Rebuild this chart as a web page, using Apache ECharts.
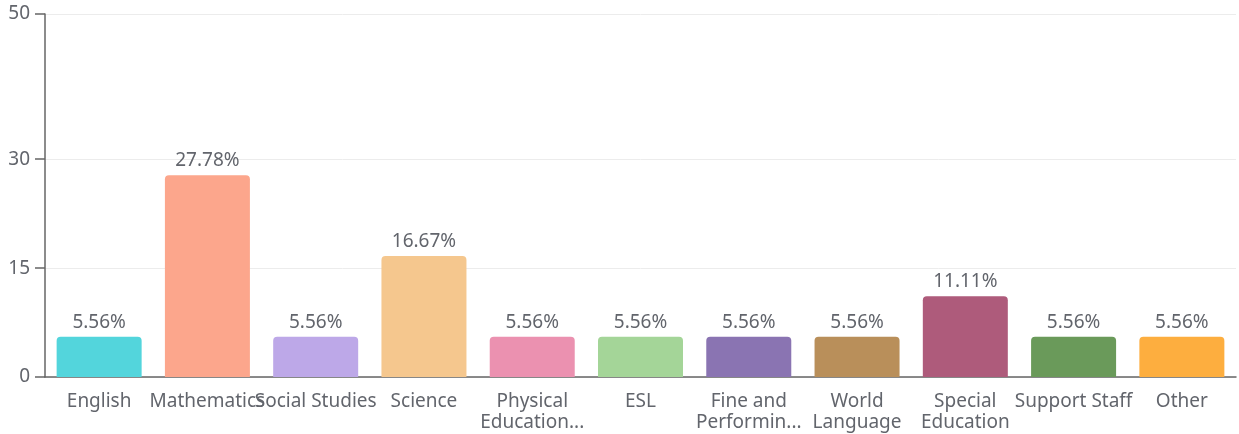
<!DOCTYPE html>
<html><head><meta charset="utf-8">
<script src="https://cdn.jsdelivr.net/npm/echarts@6/dist/echarts.min.js"></script>
<style>html,body{margin:0;padding:0;background:#fff}#c{width:1239px;height:434px}</style>
</head><body><div id="c"></div>
<script>
const categories = ['English','Mathematics','Social Studies','Science','Physical Education/Health','ESL','Fine and Performing Arts','World Language','Special Education','Support Staff','Other'];
const tickLabels = ['English','Mathematics','Social Studies','Science','Physical\nEducation...','ESL','Fine and\nPerformin...','World\nLanguage','Special\nEducation','Support Staff','Other'];
const values = [5.56, 27.78, 5.56, 16.67, 5.56, 5.56, 5.56, 5.56, 11.11, 5.56, 5.56];
const colors = ['#53d5dc','#fca68c','#bda8e8','#f5c78e','#eb91b0','#a4d598','#8a74b2','#b98f5a','#ae5b7b','#6a9a5a','#fdae3f'];
const yTicks = [0, 15, 30, 50];

const chart = echarts.init(document.getElementById('c'));
const font = 'Noto Sans';
const txt = '#62656c';
chart.setOption({
  animation: false,
  grid: {left: 45, right: 3, top: 14, bottom: 57, containLabel: false},
  xAxis: {
    type: 'category',
    data: categories,
    axisLine: {lineStyle: {color: '#666', width: 1.5}},
    axisTick: {alignWithLabel: true, length: 9, lineStyle: {color: '#666', width: 1.5}},
    axisLabel: {
      interval: 0, hideOverlap: false, color: txt, fontFamily: font, fontSize: 19,
      lineHeight: 21, margin: 14,
      formatter: (v, i) => tickLabels[i]
    }
  },
  yAxis: {
    type: 'value', min: 0, max: 50,
    axisLine: {show: true, lineStyle: {color: '#666', width: 1.5}},
    axisTick: {show: true, length: 10, customValues: yTicks, lineStyle: {color: '#666', width: 1.5}},
    axisLabel: {customValues: yTicks, color: txt, fontFamily: font, fontSize: 19, margin: 15},
    splitLine: {show: true, lineStyle: {color: '#ececec', width: 1}}
  },
  series: [{
    type: 'bar',
    data: values.map((v, i) => ({value: v, itemStyle: {color: colors[i]}})),
    barWidth: 85,
    itemStyle: {borderRadius: [4, 4, 0, 0]},
    label: {show: true, position: 'top', distance: 5, color: txt, fontFamily: font, fontSize: 19,
      formatter: p => p.value.toFixed(2) + '%'}
  }]
});
</script></body></html>
